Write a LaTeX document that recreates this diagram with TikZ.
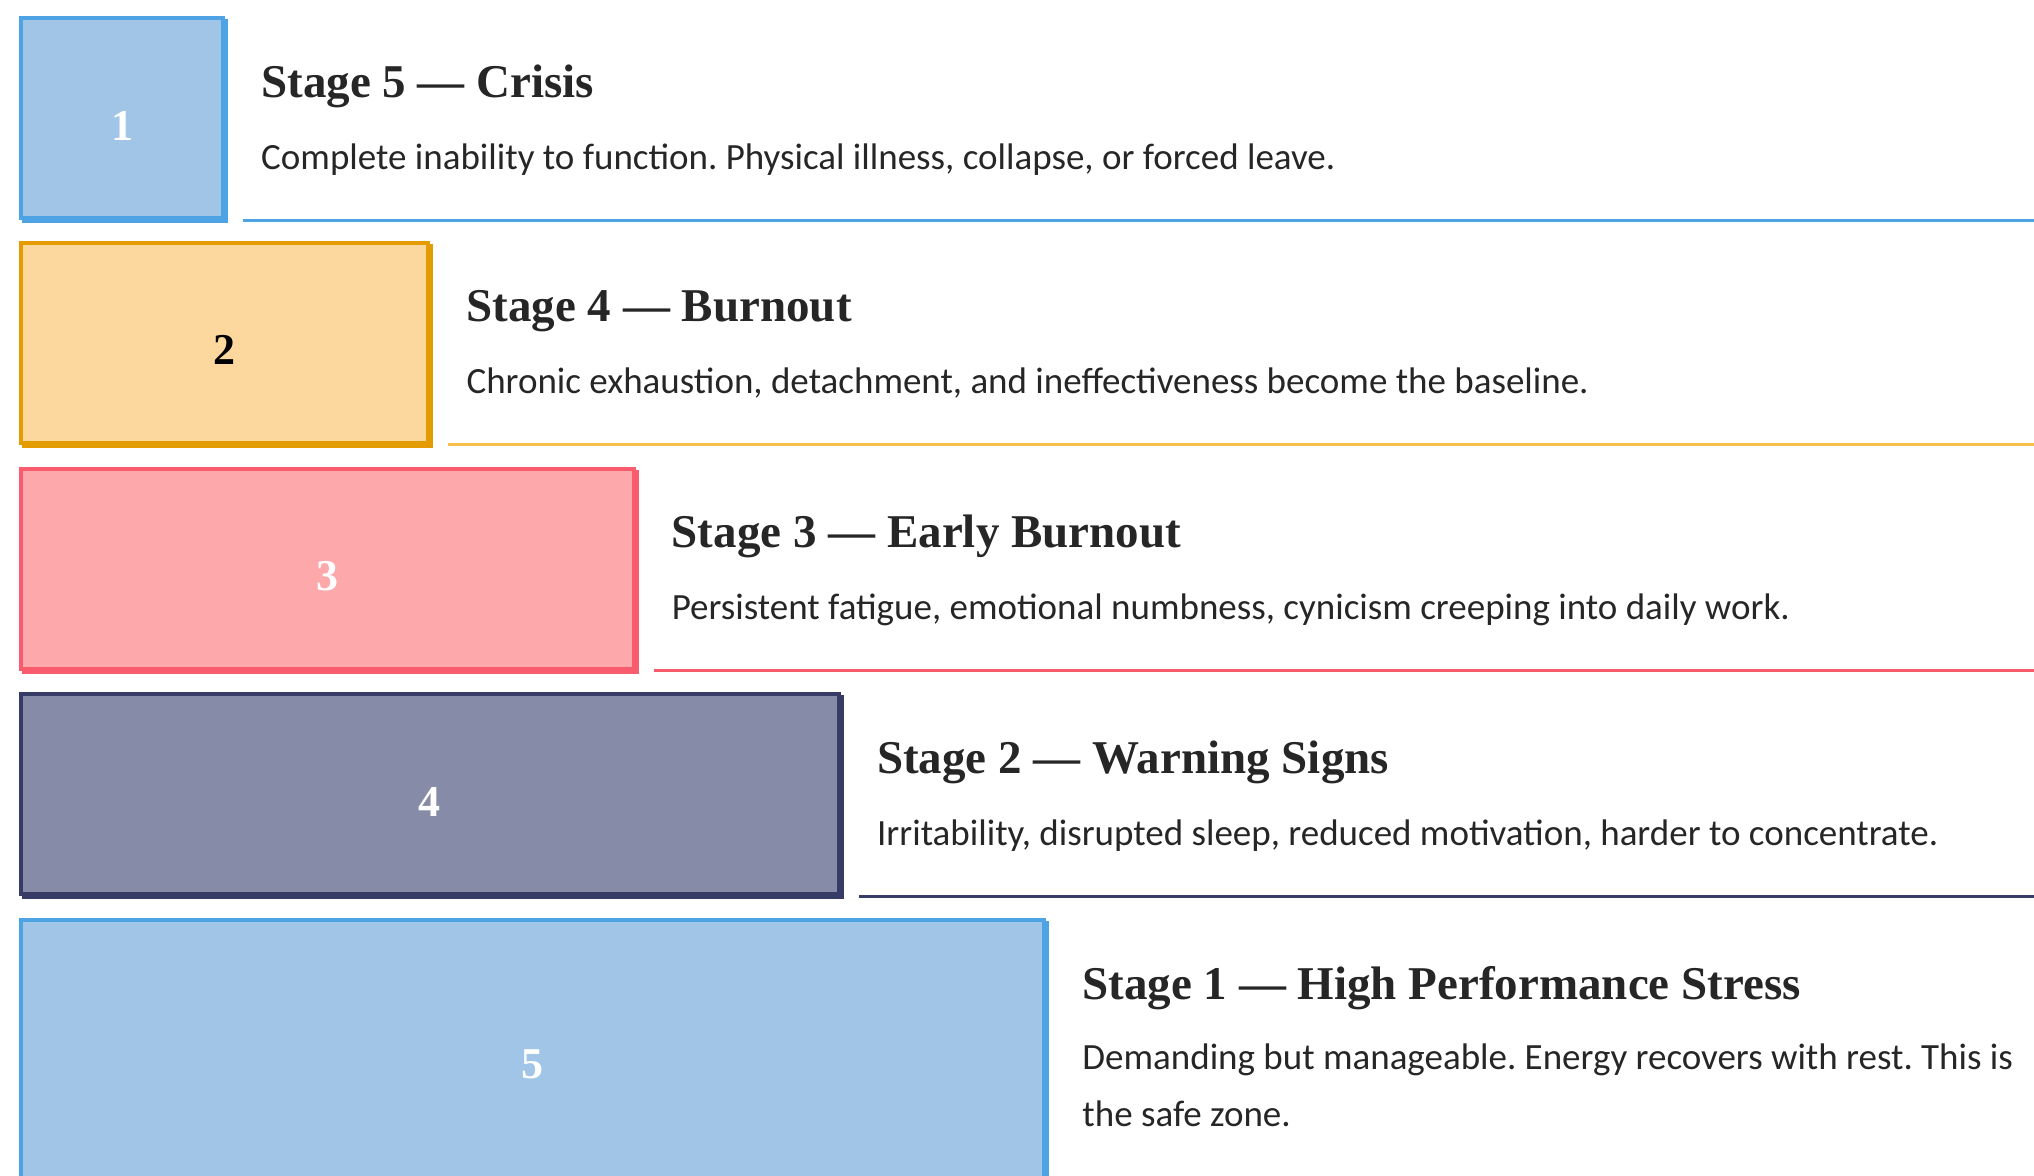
\documentclass[tikz,border=0pt]{standalone}
\usepackage{fontspec}
\setmainfont{Carlito}
\newfontfamily\headfont{Liberation Serif}
\usetikzlibrary{shadows}
\frenchspacing

\definecolor{skyfill}{HTML}{A0C5E7}
\definecolor{skyline}{HTML}{4EA3E5}
\definecolor{sandfill}{HTML}{FCD79E}
\definecolor{sandline}{HTML}{E39B00}
\definecolor{sandrule}{HTML}{F7C04A}
\definecolor{rosefill}{HTML}{FDA8AB}
\definecolor{roseline}{HTML}{F85C6D}
\definecolor{slatefill}{HTML}{868CA7}
\definecolor{slateline}{HTML}{363C66}
\definecolor{ink}{HTML}{262626}

\tikzset{
  stagebox/.style 2 args={fill=#1, draw=#2, line width=4pt, inner sep=0pt, anchor=north west,
    general shadow={fill=#2, draw=#2, line width=4pt, shadow xshift=3pt, shadow yshift=-3pt},
    font=\headfont\bfseries\fontsize{44}{48}\selectfont, text=white,
    text height=44pt, text depth=0pt},
  stagehead/.style={anchor=base west, text=ink, font=\headfont\bfseries\fontsize{47}{56}\selectfont},
  stagetext/.style={anchor=base west, text=ink, font=\fontsize{37}{42}\selectfont},
  stagerule/.style={line width=3pt}
}

\begin{document}
\begin{tikzpicture}[x=1pt, y=-1pt]
\useasboundingbox (0,0) rectangle (2034,1175);
% right end of the rules
\coordinate (rim) at (2034,0);

% steps grow by 205.3 in width, rows are 225.7 apart
\node[stagebox={skyfill}{skyline}, minimum width=202, minimum height=200] (box1) at (19,16) {1};
\node[stagebox={sandfill}{sandline}, minimum width=407.3, minimum height=200, text=black] (box2) at (19,240.5) {2};
\node[stagebox={rosefill}{roseline}, minimum width=612.6, minimum height=200] (box3) at (19,466.5) {3};
\node[stagebox={slatefill}{slateline}, minimum width=817.9, minimum height=200] (box4) at (19,692.3) {4};
\node[stagebox={skyfill}{skyline}, minimum width=1023.2, minimum height=272] (box5) at (19,918) {5};

\node[stagehead] (head1) at ([shift={(32.7,81)}]box1.north east) {Stage 5 — Crisis};
\node[stagetext] (text1) at ([shift={(32.7,153)}]box1.north east) {Complete inability to function. Physical illness, collapse, or forced leave.};
\draw[stagerule, skyline] ([xshift=18pt]box1.south east) -- (box1.south east -| rim);

\node[stagehead] (head2) at ([shift={(32.7,81)}]box2.north east) {Stage 4 — Burnout};
\node[stagetext] (text2) at ([shift={(32.7,153)}]box2.north east) {Chronic exhaustion, detachment, and ineffectiveness become the baseline.};
\draw[stagerule, sandrule] ([xshift=18pt]box2.south east) -- (box2.south east -| rim);

\node[stagehead] (head3) at ([shift={(32.7,81)}]box3.north east) {Stage 3 — Early Burnout};
\node[stagetext] (text3) at ([shift={(32.7,153)}]box3.north east) {Persistent fatigue, emotional numbness, cynicism creeping into daily work.};
\draw[stagerule, roseline] ([xshift=18pt]box3.south east) -- (box3.south east -| rim);

\node[stagehead] (head4) at ([shift={(32.7,81)}]box4.north east) {Stage 2 — Warning Signs};
\node[stagetext] (text4) at ([shift={(32.7,153)}]box4.north east) {Irritability, disrupted sleep, reduced motivation, harder to concentrate.};
\draw[stagerule, slateline] ([xshift=18pt]box4.south east) -- (box4.south east -| rim);

\node[stagehead] (head5) at ([shift={(32.7,81)}]box5.north east) {Stage 1 — High Performance Stress};
\node[stagetext] (text5) at ([shift={(32.7,151)}]box5.north east) {Demanding but manageable. Energy recovers with rest. This is};
\node[stagetext] (text5b) at ([shift={(32.7,208)}]box5.north east) {the safe zone.};
\end{tikzpicture}
\end{document}
